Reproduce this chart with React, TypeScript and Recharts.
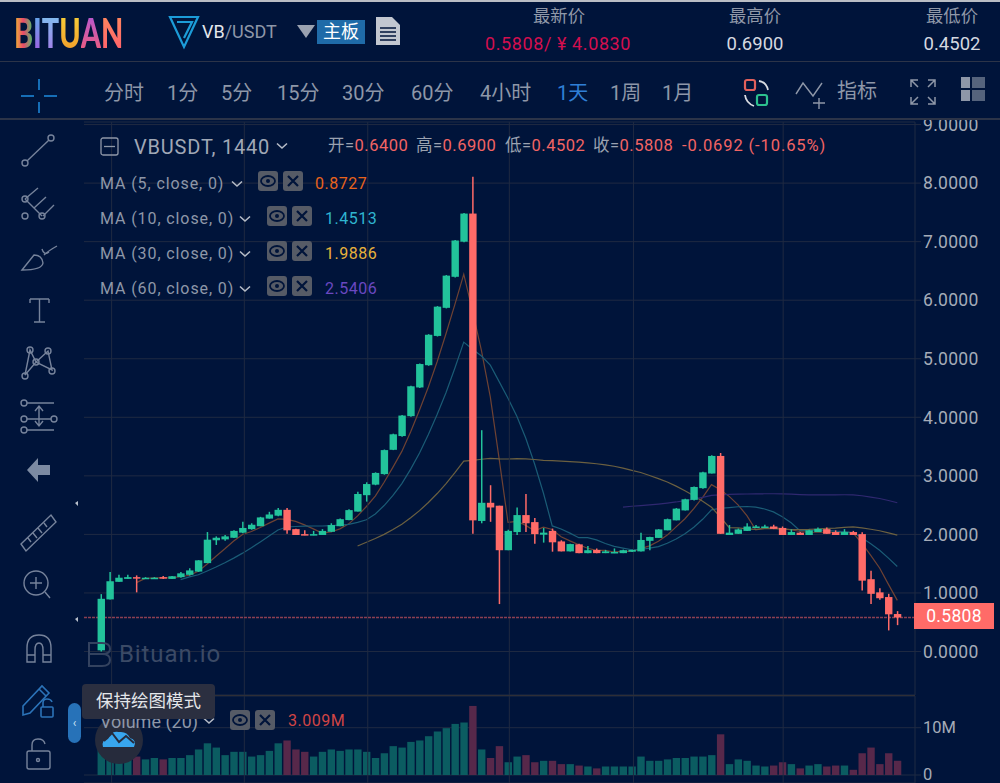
import React from "react";
import {
  Bar,
  CartesianGrid,
  Cell,
  ComposedChart,
  Line,
  ReferenceLine,
  XAxis,
  YAxis,
} from "recharts";

const opens = [
  0.02, 0.89, 1.19, 1.24, 1.27, 1.245, 1.245, 1.27, 1.24, 1.27, 1.31, 1.365, 1.51, 1.9, 1.915, 1.943, 2.03, 2.09, 2.14, 2.27,
  2.32, 2.42, 2.09, 2.005, 1.99, 1.99, 2.045, 2.14, 2.245, 2.39, 2.67, 2.85, 3.03, 3.445, 3.68, 4.02, 4.51, 4.89, 5.39, 5.87,
  6.4, 7.0, 7.48, 2.23, 2.54, 2.49, 1.73, 2.04, 2.33, 2.21, 1.995, 2.06, 1.88, 1.71, 1.83, 1.68, 1.735, 1.68, 1.68, 1.68,
  1.705, 1.71, 1.89, 1.94, 2.07, 2.24, 2.41, 2.59, 2.79, 3.04, 3.34, 1.99, 2.01, 2.06, 2.11, 2.11, 2.135, 2.11, 1.99, 2.03,
  1.99, 2.04, 2.09, 2.04, 1.99, 2.04, 2.005, 1.235, 1.01, 0.93, 0.64,
];
const closes = [
  0.9, 1.2, 1.26, 1.27, 1.25, 1.26, 1.26, 1.245, 1.285, 1.335, 1.385, 1.557, 1.91, 1.943, 1.966, 2.06, 2.11, 2.165, 2.29, 2.34,
  2.42, 2.07, 1.99, 1.99, 2.005, 2.06, 2.16, 2.26, 2.415, 2.69, 2.86, 3.05, 3.44, 3.71, 4.03, 4.53, 4.91, 5.41, 5.89, 6.42,
  7.02, 7.48, 2.24, 2.54, 2.46, 1.73, 2.06, 2.33, 2.19, 2.005, 2.03, 1.865, 1.71, 1.835, 1.68, 1.73, 1.68, 1.71, 1.7, 1.73,
  1.735, 1.905, 1.955, 2.085, 2.26, 2.44, 2.6, 2.81, 3.06, 3.34, 2.01, 2.03, 2.085, 2.135, 2.135, 2.135, 2.095, 1.99, 2.04, 1.99,
  2.07, 2.095, 2.01, 1.99, 2.04, 1.99, 1.21, 0.985, 0.91, 0.635, 0.5808,
];
const highs = [
  0.98, 1.36, 1.31, 1.31, 1.3, 1.27, 1.27, 1.29, 1.29, 1.36, 1.42, 1.56, 2.04, 1.966, 1.99, 2.07, 2.216, 2.19, 2.3, 2.386,
  2.45, 2.45, 2.095, 2.07, 2.06, 2.09, 2.19, 2.27, 2.43, 2.73, 2.89, 3.06, 3.45, 3.72, 4.04, 4.54, 4.92, 5.42, 5.9, 6.43,
  7.03, 7.49, 8.11, 3.78, 2.84, 2.49, 2.08, 2.46, 2.69, 2.28, 2.11, 2.1, 1.9, 1.84, 1.84, 1.8, 1.76, 1.735, 1.76, 1.74,
  1.74, 2.03, 1.96, 2.09, 2.27, 2.45, 2.61, 2.82, 3.07, 3.35, 3.39, 2.16, 2.1, 2.19, 2.16, 2.165, 2.165, 2.135, 2.085, 2.04,
  2.08, 2.12, 2.12, 2.07, 2.09, 2.06, 2.035, 1.38, 1.08, 0.985, 0.69,
];
const lows = [
  0.0, 0.89, 1.19, 1.24, 1.01, 1.24, 1.24, 1.24, 1.24, 1.26, 1.3, 1.36, 1.51, 1.82, 1.89, 1.94, 2.02, 2.08, 2.14, 2.27,
  2.31, 2.01, 1.99, 1.985, 1.985, 1.99, 2.04, 2.14, 2.24, 2.39, 2.56, 2.84, 3.02, 3.44, 3.67, 4.01, 4.5, 4.88, 5.38, 5.86,
  6.39, 6.99, 2.01, 2.19, 2.215, 0.81, 1.73, 1.99, 2.04, 1.84, 1.86, 1.705, 1.71, 1.71, 1.68, 1.68, 1.68, 1.68, 1.68, 1.68,
  1.7, 1.71, 1.73, 1.94, 2.07, 2.24, 2.41, 2.58, 2.78, 3.04, 2.01, 1.99, 2.01, 2.06, 2.11, 2.11, 2.09, 1.99, 1.99, 1.99,
  1.99, 2.04, 2.01, 1.99, 1.99, 1.99, 1.04, 0.81, 0.885, 0.36, 0.4502,
];
const volumes = [
  5.3, 4.6, 4.2, 3.5, 3.9, 3.3, 3.6, 3.3, 3.6, 3.6, 4.2, 5.4, 6.7, 5.8, 4.2, 4.9, 4.9, 3.9, 4.2, 5.1,
  6.7, 7.3, 5.4, 4.9, 3.9, 4.9, 5.4, 5.1, 5.4, 5.4, 4.9, 3.6, 4.6, 6.1, 5.8, 7.0, 7.3, 8.2, 9.2, 9.9,
  10.8, 11.1, 14.6, 5.4, 3.6, 6.1, 2.7, 3.9, 4.2, 2.7, 3.0, 3.0, 2.3, 2.3, 2.0, 1.8, 1.4, 1.8, 1.8, 1.8,
  1.8, 3.9, 3.0, 3.0, 3.3, 3.6, 3.6, 3.9, 3.9, 4.2, 8.6, 2.3, 3.3, 3.0, 2.0, 1.8, 2.0, 2.7, 2.3, 1.4,
  2.0, 2.3, 1.8, 2.0, 2.0, 1.1, 4.6, 5.8, 2.3, 4.6, 3.009,
];
const blanks = (n: number): null[] => Array(n).fill(null);
const ma5 = [
  ...blanks(4),
  1.176, 1.248, 1.258, 1.257, 1.263, 1.277, 1.302, 1.369, 1.494, 1.628, 1.754, 1.887, 1.998, 2.049, 2.118, 2.193,
  2.265, 2.257, 2.222, 2.162, 2.095, 2.023, 2.041, 2.095, 2.18, 2.317, 2.477, 2.655, 2.891, 3.15, 3.418, 3.752,
  4.124, 4.518, 4.954, 5.432, 5.93, 6.444, 5.81, 5.14, 4.348, 3.29, 2.206, 2.224, 2.154, 2.063, 2.123, 2.084,
  1.96, 1.889, 1.824, 1.764, 1.727, 1.727, 1.7, 1.71, 1.711, 1.756, 1.805, 1.882, 1.988, 2.129, 2.268, 2.439,
  2.634, 2.85, 2.764, 2.65, 2.505, 2.32, 2.079, 2.104, 2.117, 2.098, 2.079, 2.05, 2.037, 2.037, 2.041, 2.031,
  2.041, 2.025, 1.848, 1.643, 1.427, 1.146, 0.8727,
];
const ma10 = [
  ...blanks(9),
  1.227, 1.275, 1.311, 1.376, 1.443, 1.515, 1.595, 1.68, 1.772, 1.872, 1.973, 2.076, 2.127, 2.135, 2.14, 2.144,
  2.144, 2.149, 2.159, 2.171, 2.206, 2.25, 2.348, 2.493, 2.665, 2.868, 3.115, 3.39, 3.705, 4.052, 4.425, 4.841,
  5.284, 5.164, 5.047, 4.89, 4.61, 4.325, 4.017, 3.647, 3.206, 2.707, 2.145, 2.092, 2.022, 1.944, 1.944, 1.906,
  1.844, 1.795, 1.767, 1.738, 1.742, 1.766, 1.791, 1.849, 1.92, 2.012, 2.122, 2.258, 2.419, 2.447, 2.459, 2.472,
  2.477, 2.465, 2.434, 2.384, 2.302, 2.2, 2.065, 2.071, 2.077, 2.07, 2.055, 2.046, 2.031, 1.943, 1.842, 1.729,
  1.594, 1.4513,
];
const ma30 = [
  ...blanks(29),
  1.802, 1.867, 1.929, 2.001, 2.083, 2.175, 2.284, 2.406, 2.545, 2.698, 2.868, 3.056, 3.253, 3.264, 3.284, 3.3,
  3.289, 3.288, 3.293, 3.29, 3.279, 3.266, 3.259, 3.25, 3.244, 3.234, 3.223, 3.207, 3.188, 3.164, 3.132, 3.095,
  3.057, 3.007, 2.953, 2.894, 2.824, 2.747, 2.661, 2.566, 2.464, 2.297, 2.115, 2.11, 2.096, 2.086, 2.099, 2.1,
  2.089, 2.084, 2.083, 2.085, 2.092, 2.102, 2.108, 2.12, 2.128, 2.113, 2.088, 2.062, 2.026, 1.9886,
];
const ma60 = [
  ...blanks(59),
  2.467, 2.481, 2.493, 2.504, 2.518, 2.535, 2.554, 2.577, 2.603, 2.632, 2.666, 2.676, 2.684, 2.687, 2.69, 2.693,
  2.694, 2.694, 2.691, 2.687, 2.681, 2.675, 2.676, 2.676, 2.676, 2.677, 2.675, 2.66, 2.638, 2.613, 2.579, 2.5406,
];

const priceTicks = [0, 1, 2, 3, 4, 5, 6, 7, 8, 9];
const volumeTicks = [0, 10];
// month lines sit a little right of the candle centres
const timeTicks = [1.2, 16.2, 30.15, 46.15, 60.18, 77.1];
const lastPrice = 0.5808;

const timeframes = ["分时", "1分", "5分", "15分", "30分", "60分", "4小时", "1天", "1周", "1月"];
const timeframeX = [104, 167, 221, 277, 342, 411, 480, 557, 610, 662];
const maLabels = ["MA (5, close, 0)", "MA (10, close, 0)", "MA (30, close, 0)", "MA (60, close, 0)"];
const maValues = ["0.8727", "1.4513", "1.9886", "2.5406"];
const quote = [
  ["开=", "0.6400"],
  ["高=", "0.6900"],
  ["低=", "0.4502"],
  ["收=", "0.5808"],
];
const quoteX = [328, 416, 505, 593];

const rows = opens.map((open, i) => ({
  i,
  open,
  close: closes[i],
  high: highs[i],
  low: lows[i],
  range: [lows[i], highs[i]],
  volume: volumes[i],
  ma5: ma5[i],
  ma10: ma10[i],
  ma30: ma30[i],
  ma60: ma60[i],
}));

const BG = "#00143A";
const GRID = "#1F2A42";
const UP = "#22C39B";
const DOWN = "#FF6B68";
const MUTED = "#8E97A8";
const FONT = "Roboto, 'Noto Sans CJK SC', sans-serif";
const xDomain = [-1.921, 92];

function Candle(props: any) {
  const { x, y, width, height, payload } = props;
  const { open, close, high, low } = payload;
  const unit = height / (high - low);
  const cx = x + width / 2;
  const color = close >= open ? UP : DOWN;
  const top = y + (high - Math.max(open, close)) * unit;
  const bodyH = Math.max(Math.abs(open - close) * unit, 1.5);
  return (
    <g>
      <line x1={cx} x2={cx} y1={y} y2={y + height} stroke={color} strokeWidth={1.5} />
      <rect x={x} y={top} width={width} height={bodyH} fill={color} />
    </g>
  );
}

function Txt({ x, y, size = 16, color = MUTED, center, children, style }: any) {
  return (
    <div
      style={{
        position: "absolute",
        left: x,
        top: y,
        fontSize: size,
        color,
        lineHeight: 1,
        whiteSpace: "nowrap",
        transform: center ? "translate(-50%,-50%)" : "translateY(-50%)",
        ...style,
      }}
    >
      {children}
    </div>
  );
}

function Chevron({ x, y }: { x: number; y: number }) {
  return (
    <svg style={{ position: "absolute", left: x, top: y - 5 }} width={14} height={10}>
      <path d="M2 2.5 L7 7 L12 2.5" stroke="#B5BBC6" strokeWidth={1.6} fill="none" />
    </svg>
  );
}

function EyeClose({ x, y }: { x: number; y: number }) {
  return (
    <svg style={{ position: "absolute", left: x, top: y - 10 }} width={46} height={21}>
      <rect width={20} height={20} rx={3} fill="#565B66" />
      <ellipse cx={10} cy={10} rx={7} ry={5} fill="none" stroke={BG} strokeWidth={1.8} />
      <circle cx={10} cy={10} r={2} fill={BG} />
      <rect x={25} width={20} height={20} rx={3} fill="#565B66" />
      <path d="M30 5 L40 15 M40 5 L30 15" stroke={BG} strokeWidth={2.2} />
    </svg>
  );
}

function SideTools() {
  const s = { stroke: "#76839B", fill: "none", strokeWidth: 1.4 };
  return (
    <svg style={{ position: "absolute", left: 0, top: 122 }} width={84} height={661}>
      <g {...s}>
        <path d="M27 39 L49 18" />
        <circle cx={25} cy={41} r={3} />
        <circle cx={51} cy={16} r={3} />
        <path d="M25 77 L38 66 M25 77 L42 94 M34 86 L46 75 M43 94 L54 83" />
        <circle cx={25} cy={77} r={3} />
        <circle cx={25} cy={94} r={3} />
        <circle cx={42} cy={94} r={3} />
        <path d="M22 148 L34 133 Q42 133 43 141 Q42 148 22 148 Z M44 133 Q48 129 57 124 M42 127 Q44 134 49 130" />
        <path d="M30 177 L49 177 M30 177 L30 181 M49 177 L49 181 M39.5 177 L39.5 200 M34 200 L45 200" />
        <path d="M25 253 L30 228 L36 240 L48 229 L52 248 L36 240 Z" />
        <circle cx={30} cy={228} r={3} />
        <circle cx={48} cy={229} r={3} />
        <circle cx={36} cy={240} r={3} />
        <circle cx={25} cy={254} r={3} />
        <circle cx={52} cy={249} r={3} />
        <path d="M27 281 L54 281 M27 297 L51 297 M27 308 L54 308 M39 285 L39 303 M35 289 L39 284 L43 289 M35 299 L39 304 L43 299" />
        <circle cx={24} cy={281} r={3} />
        <circle cx={24} cy={297} r={3} />
        <circle cx={54} cy={297} r={3} />
        <circle cx={24} cy={308} r={3} />
        <path d="M21 422 L51 393 L56 400 L26 429 Z M28 416 L31 420 M33 411 L37 416 M38 406 L42 411 M44 401 L47 405" />
        <circle cx={36} cy={461} r={12} />
        <path d="M36 455 L36 467 M30 461 L42 461 M45 470 L50 476" />
        <path d="M27 540 L27 526 Q27 513 39 513 Q51 513 51 526 L51 540 L43 540 L43 528 Q43 521 39 521 Q35 521 35 528 L35 540 Z M27 533 L35 533 M43 533 L51 533" />
        <rect x={27} y={629} width={23} height={18} rx={2} />
        <path d="M32 629 L32 623 Q32 617 38 617 Q44 617 45 622" />
        <circle cx={38} cy={638} r={1.5} />
      </g>
      <path d="M38 336 L27 348 L38 360 L38 353 L50 353 L50 343 L38 343 Z" fill="#7C8AA2" />
      <g stroke="#2B73B8" fill="none" strokeWidth={1.6}>
        <path d="M23 584 L42 564 L49 571 L30 591 L23 593 Z M39 567 L46 574" />
        <rect x={41} y={585} width={12} height={10} rx={1} />
        <path d="M43 585 L43 581 Q43 577 47 577 Q51 577 52 580" />
      </g>
      <path d="M75 381 l3 3 l0 -5 Z M75 497 l3 3 l0 -5 Z" fill="#B9C0CC" />
    </svg>
  );
}

function Header() {
  const letters = [
    ["B", "linear-gradient(90deg,#F0C02E,#E84B6A,#4BC06B)"],
    ["I", "linear-gradient(180deg,#5DB0EE,#A25BE0)"],
    ["T", "linear-gradient(180deg,#7CC4F0,#A57BE8)"],
    ["U", "linear-gradient(180deg,#F7D23A,#F09A2A)"],
    ["A", "linear-gradient(180deg,#B058D8,#F05C78)"],
    ["N", "linear-gradient(180deg,#FF8A5C,#FF5F6E)"],
  ];
  return (
    <div style={{ position: "absolute", left: 0, top: 0, width: 1000, height: 120, background: BG, borderTop: "2px solid #B9BDC4", boxSizing: "border-box" }}>
      <div style={{ position: "absolute", left: 0, top: 59, width: 1000, height: 1, background: "#2C3448" }} />
      <div style={{ position: "absolute", left: 0, top: 116, width: 1000, height: 2, background: "#2C3448" }} />
      <div style={{ position: "absolute", left: 14, top: 10, display: "flex", lineHeight: 1, fontSize: 32, fontWeight: 900, fontFamily: "Lato, sans-serif", transform: "scale(0.9,1.3)", transformOrigin: "left top" }}>
        {letters.map(([ch, bg]) => (
          <span key={ch} style={{ background: bg, WebkitBackgroundClip: "text", backgroundClip: "text", color: "transparent" }}>
            {ch}
          </span>
        ))}
      </div>
      <svg style={{ position: "absolute", left: 168, top: 12 }} width={34} height={36}>
        <path d="M2 3 L30 3 L16 33 Z M9 8 L24 8 L16 24" fill="none" stroke="#1C9CD8" strokeWidth={2.2} />
      </svg>
      <Txt x={202} y={30} size={18} color="#E4E7EC">VB<span style={{ color: "#8E97A8" }}>/USDT</span></Txt>
      <svg style={{ position: "absolute", left: 297, top: 23 }} width={18} height={13}>
        <path d="M0 0 L18 0 L9 13 Z" fill="#9AA2B0" />
      </svg>
      <div style={{ position: "absolute", left: 317, top: 18, width: 48, height: 24, background: "#1F6BA8", color: "#fff", fontSize: 18, lineHeight: "24px", textAlign: "center" }}>主板</div>
      <svg style={{ position: "absolute", left: 376, top: 15 }} width={24} height={28}>
        <path d="M0 0 L16 0 L24 8 L24 28 L0 28 Z" fill="#C2C7D0" />
        <path d="M4 11 L20 11 M4 15 L20 15 M4 19 L20 19 M4 23 L20 23" stroke={BG} strokeWidth={1.5} />
      </svg>
      <Txt x={559} y={15} size={17.3} center color="#9098A8">最新价</Txt>
      <Txt x={558} y={42} center size={18} color="#D30F4F" style={{ letterSpacing: 0.6 }}>0.5808/ ¥ 4.0830</Txt>
      <Txt x={755} y={15} size={17.3} center color="#9098A8">最高价</Txt>
      <Txt x={755} y={42} center size={18.5} color="#D5D9E0">0.6900</Txt>
      <Txt x={952} y={15} size={17.3} center color="#9098A8">最低价</Txt>
      <Txt x={952} y={42} center size={18.5} color="#D5D9E0">0.4502</Txt>
      <svg style={{ position: "absolute", left: 20, top: 76 }} width={38} height={36}>
        <path d="M1 18 L14 18 M24 18 L37 18 M19 1 L19 12 M19 24 L19 35" stroke="#1E8CE0" strokeWidth={1.5} />
      </svg>
      {timeframes.map((t, k) => (
        <Txt key={t} x={timeframeX[k]} y={91} size={20} color={t === "1天" ? "#2F7FD6" : "#8E97A8"}>{t}</Txt>
      ))}
      <svg style={{ position: "absolute", left: 743, top: 76 }} width={30} height={30}>
        <rect x={2} y={2} width={10} height={10} rx={2} fill="none" stroke="#E0605C" strokeWidth={2.2} />
        <rect x={14} y={17} width={10} height={10} rx={2} fill="none" stroke="#2CC08E" strokeWidth={2.2} />
        <path d="M16 3 Q23 4 25 12 M2 17 Q3 25 11 28" stroke="#D8DCE2" strokeWidth={1.8} fill="none" />
      </svg>
      <svg style={{ position: "absolute", left: 795, top: 76 }} width={36} height={32}>
        <path d="M1 16 L8 5 L18 18 L27 5 M24 20 L24 31 M18 25 L30 25" stroke="#8E97A8" fill="none" strokeWidth={1.4} />
      </svg>
      <Txt x={837} y={89} size={20}>指标</Txt>
      <svg style={{ position: "absolute", left: 909, top: 76 }} width={28} height={28}>
        <path d="M2 9 L2 2 L9 2 M2 2 L9 9 M26 9 L26 2 L19 2 M26 2 L19 9 M2 19 L2 26 L9 26 M2 26 L9 19 M26 19 L26 26 L19 26 M26 26 L19 19" stroke="#8E97A8" fill="none" strokeWidth={1.5} />
      </svg>
      <svg style={{ position: "absolute", left: 961, top: 75 }} width={25} height={26}>
        <rect width={9} height={11} fill="#8E97A8" />
        <rect y={13} width={9} height={11} fill="#8E97A8" />
        <rect x={11} width={13} height={11} fill="#8E97A8" opacity={0.6} />
        <rect x={11} y={13} width={13} height={11} fill="#8E97A8" opacity={0.6} />
      </svg>
    </div>
  );
}

function Legends() {
  const maRows = [183, 218, 253, 288];
  const maColors = ["#E8631C", "#2FB5D0", "#E8B23A", "#6A48C0"];
  const chevX = [230, 238, 238, 238];
  const boxX = [258, 267, 267, 267];
  const valX = [315, 325, 325, 325];
  return (
    <>
      <svg style={{ position: "absolute", left: 100, top: 137 }} width={19} height={19}>
        <rect x={1} y={1} width={17} height={17} rx={2} fill="none" stroke="#8E97A8" strokeWidth={1.3} />
        <path d="M4 9.5 L15 9.5" stroke="#8E97A8" strokeWidth={1.3} />
      </svg>
      <Txt x={134} y={147} size={20} color="#A0A8B6" style={{ letterSpacing: 0.8 }}>VBUSDT, 1440</Txt>
      <Chevron x={275} y={146} />
      {quote.map(([k, v], n) => (
        <Txt key={k} x={quoteX[n]} y={146} size={16.5} style={{ letterSpacing: 0.5 }}>
          <span style={{ color: "#9AA2B0" }}>{k}</span>
          <span style={{ color: "#F26464" }}>{v}</span>
        </Txt>
      ))}
      <Txt x={682} y={146} size={16.5} color="#F26464" style={{ letterSpacing: 0.9 }}>-0.0692 (-10.65%)</Txt>
      {maLabels.map((label, k) => (
        <React.Fragment key={label}>
          <Txt x={100} y={maRows[k] + 1} size={16} color="#8E97A8" style={{ letterSpacing: 0.9 }}>{label}</Txt>
          <Chevron x={chevX[k]} y={maRows[k] + 1} />
          <EyeClose x={boxX[k]} y={maRows[k] - 2} />
          <Txt x={valX[k]} y={maRows[k] + 1} size={16} color={maColors[k]} style={{ letterSpacing: 0.5 }}>{maValues[k]}</Txt>
        </React.Fragment>
      ))}
      <svg style={{ position: "absolute", left: 88, top: 642 }} width={24} height={26}>
        <path d="M1 1 L14 1 Q22 1 22 7 Q22 12 14 12 L1 12 Z M1 12 L14 12 Q22 12 22 18 Q22 24 14 24 L1 24 Z" fill="none" stroke="#33425F" strokeWidth={2} />
      </svg>
      <Txt x={119} y={654} size={24} color="#3B4A66" style={{ letterSpacing: 0.9 }}>Bituan.io</Txt>
      <svg style={{ position: "absolute", left: 95, top: 716 }} width={48} height={48}>
        <circle cx={24} cy={24} r={24} fill="#262B3C" />
        <path d="M8 31 Q6 24 13 23 Q16 14 24 16 Q32 15 35 22 Q42 24 39 31 Z" fill="#38A6EE" />
        <path d="M9 25 L17 17 L24 26 L31 20 L39 27" stroke="#262B3C" strokeWidth={2} fill="none" />
      </svg>
      <Txt x={100} y={722} size={18} color="#8E97A8">Volume (20)</Txt>
      <Chevron x={202} y={721} />
      <EyeClose x={230} y={720} />
      <Txt x={288} y={721} size={16} color="#D04545" style={{ letterSpacing: 0.5 }}>3.009M</Txt>
      <div style={{ position: "absolute", left: 82, top: 684, width: 133, height: 35, background: "#2B2F40", borderRadius: 4, color: "#E4E6EA", fontSize: 17.5, lineHeight: "35px", textAlign: "center" }}>保持绘图模式</div>
      <div style={{ position: "absolute", left: 68, top: 703, width: 13, height: 40, background: "#2772B8", borderRadius: 7, color: "#CFE2F5", fontSize: 12, lineHeight: "40px", textAlign: "center" }}>‹</div>
    </>
  );
}

export default function App() {
  return (
    <div style={{ position: "absolute", left: 0, top: 0, width: 1000, height: 783, background: BG, overflow: "hidden", fontFamily: FONT }}>
      <div style={{ position: "absolute", left: 0, top: 0 }}>
        <ComposedChart width={1000} height={695} data={rows} margin={{ top: 122, right: 0, bottom: 0, left: 84 }}>
          <CartesianGrid stroke={GRID} strokeWidth={1} vertical={false} />
          <XAxis dataKey="i" type="number" scale="linear" domain={xDomain} allowDataOverflow tick={false} tickLine={false} axisLine={false} height={0} />
          <YAxis
            orientation="right"
            width={85}
            domain={[-0.743, 9.044]}
            ticks={priceTicks}
            allowDataOverflow
            interval={0}
            stroke={GRID}
            tickSize={6}
            tickFormatter={(v: number) => v.toFixed(4)}
            tick={{ fill: "#A5ACB8", fontSize: 17.5, fontFamily: FONT, letterSpacing: 0.3 }}
          />
          {timeTicks.map((t) => (
            <ReferenceLine key={t} x={t} stroke={GRID} />
          ))}
          <ReferenceLine y={lastPrice} stroke="#8A3F52" strokeWidth={1.3} strokeDasharray="3 1" />
          <Line dataKey="ma5" stroke="#6E4233" strokeWidth={1.2} dot={false} isAnimationActive={false} zIndex={100} />
          <Line dataKey="ma10" stroke="#1A5C76" strokeWidth={1.2} dot={false} isAnimationActive={false} zIndex={100} />
          <Line dataKey="ma30" stroke="#6B6040" strokeWidth={1.2} dot={false} isAnimationActive={false} zIndex={100} />
          <Line dataKey="ma60" stroke="#2F2870" strokeWidth={1.2} dot={false} isAnimationActive={false} zIndex={100} />
          <Bar dataKey="range" barSize={7.4} shape={<Candle />} isAnimationActive={false} zIndex={500} />
        </ComposedChart>
      </div>
      <div style={{ position: "absolute", left: 84, top: 695, width: 831, height: 1, background: "#2E2E36" }} />
      <div style={{ position: "absolute", left: 0, top: 696 }}>
        <ComposedChart width={1000} height={87} data={rows} margin={{ top: 0, right: 0, bottom: 0, left: 84 }}>
          <CartesianGrid stroke={GRID} strokeWidth={1} vertical={false} />
          <XAxis dataKey="i" type="number" scale="linear" domain={xDomain} allowDataOverflow tick={false} tickLine={false} axisLine={false} height={0} />
          <YAxis
            orientation="right"
            width={85}
            domain={[-1.69, 16.7]}
            ticks={volumeTicks}
            allowDataOverflow
            interval={0}
            stroke={GRID}
            tickSize={6}
            tickFormatter={(v: number) => (v ? `${v}M` : "0")}
            tick={{ fill: "#A5ACB8", fontSize: 16.5, fontFamily: FONT, dy: -1 }}
          />
          {timeTicks.map((t) => (
            <ReferenceLine key={t} x={t} stroke={GRID} />
          ))}
          <Bar dataKey="volume" barSize={7.4} isAnimationActive={false}>
            {rows.map((r) => (
              <Cell key={r.i} fill={r.close >= r.open ? "#0B5C61" : "#57284A"} />
            ))}
          </Bar>
        </ComposedChart>
      </div>
      <div style={{ position: "absolute", left: 914, top: 603, width: 80, height: 26, background: DOWN, color: "#fff", fontSize: 17.5, lineHeight: "26px", textAlign: "center", letterSpacing: 0.3 }}>0.5808</div>
      <SideTools />
      <Legends />
      <Header />
    </div>
  );
}
